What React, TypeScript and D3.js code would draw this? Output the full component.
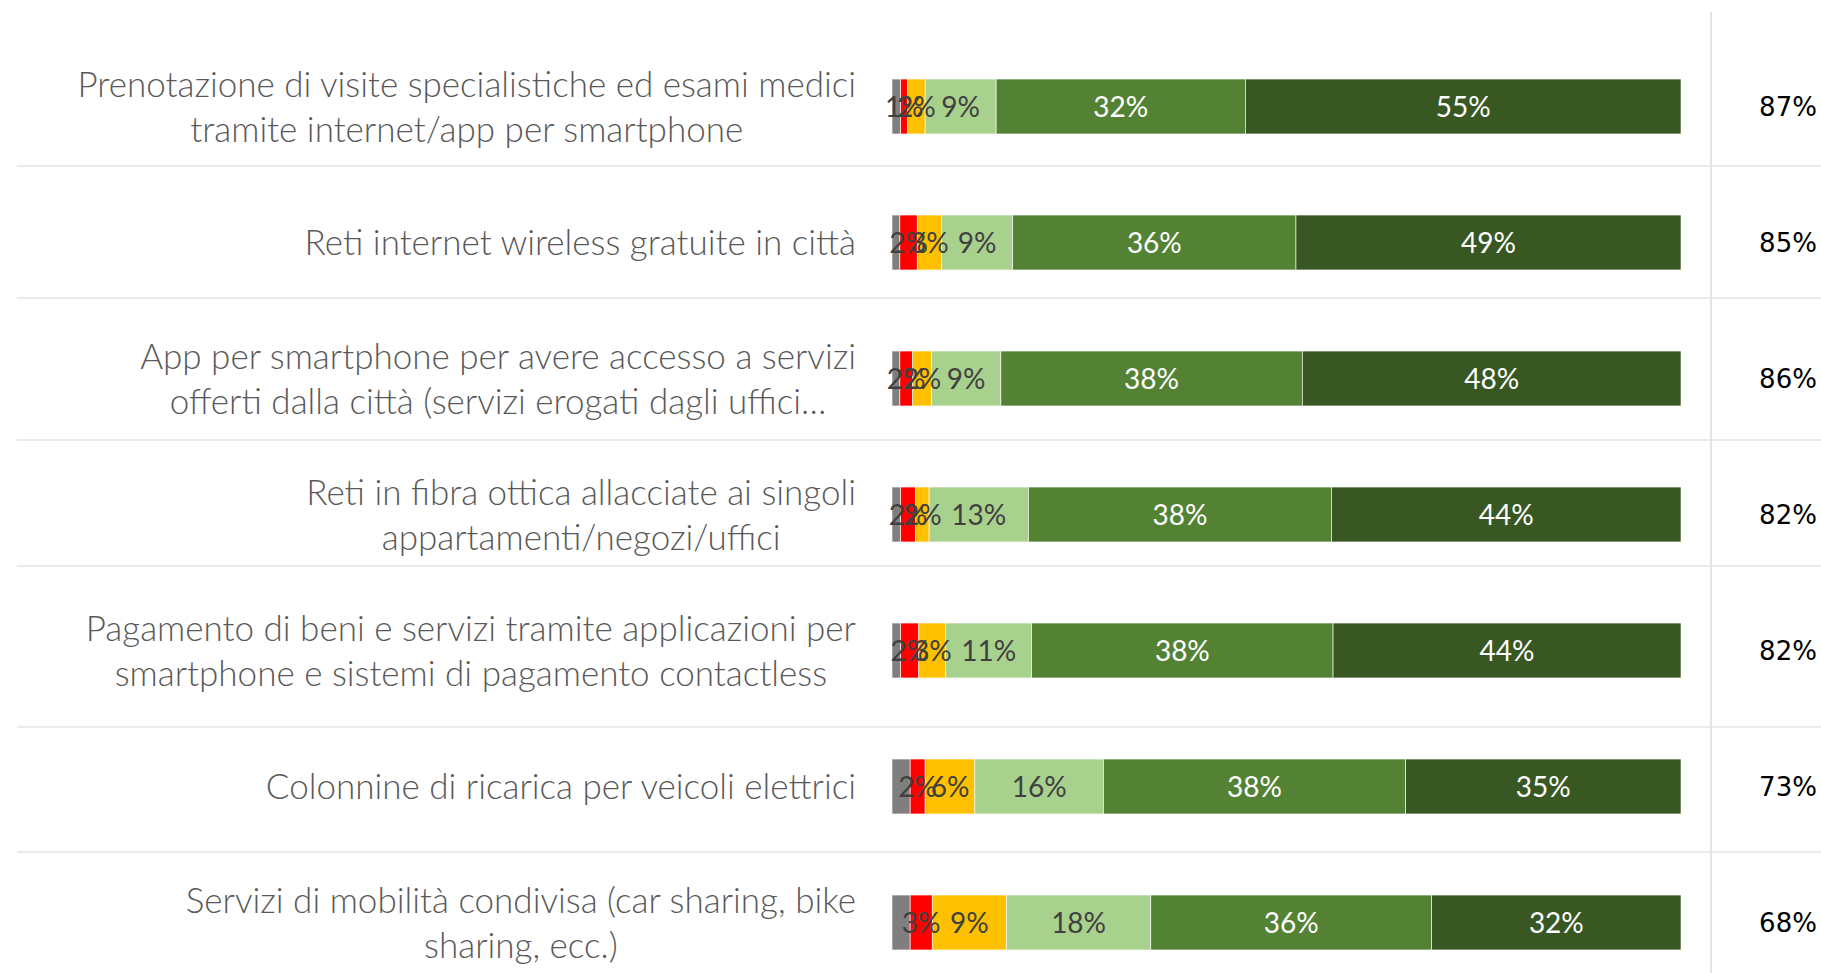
import React, { useEffect, useRef } from 'react'
import * as d3 from 'd3'

// category labels, '\n' marks the line breaks of the axis labels
const categories = [
  'Prenotazione di visite specialistiche ed esami medici\ntramite internet/app per smartphone',
  'Reti internet wireless gratuite in città',
  'App per smartphone per avere accesso a servizi\nofferti dalla città (servizi erogati dagli uffici…',
  'Reti in fibra ottica allacciate ai singoli\nappartamenti/negozi/uffici',
  'Pagamento di beni e servizi tramite applicazioni per\nsmartphone e sistemi di pagamento contactless',
  'Colonnine di ricarica per veicoli elettrici',
  'Servizi di mobilità condivisa (car sharing, bike\nsharing, ecc.)'
]

const seriesKeys = ['nonSa', 'perNiente', 'poco', 'abbastanza', 'utile', 'moltoUtile']
const seriesColors = ['#7f7f7f', '#ff0000', '#ffc000', '#a9d18e', '#548235', '#385723']

const nonSa = [1.1, 1.0, 1.0, 1.1, 1.1, 2.3, 2.3]
const perNiente = [0.9, 2.2, 1.6, 1.9, 2.3, 1.9, 2.8]
const poco = [2.2, 3.1, 2.4, 1.7, 3.4, 6.3, 9.4]
const abbastanza = [9.0, 9.0, 8.8, 12.6, 10.9, 16.3, 18.3]
const utile = [31.6, 35.9, 38.2, 38.4, 38.2, 38.3, 35.6]
const moltoUtile = [55.2, 48.8, 48.0, 44.3, 44.1, 34.9, 31.6]

// top-2 box column on the right
const totals = [87, 85, 86, 82, 82, 73, 68]

// table borders behind the chart (layout only)
const rowLines = [166, 298, 440, 566, 727, 852]

const W = 1821
const H = 973

export default function App () {
  const ref = useRef<SVGSVGElement>(null)

  useEffect(() => {
    document.body.style.margin = '0'
    const svg = d3.select(ref.current)
    svg.selectAll('*').remove()

    const rows = categories.map((c, i) => ({
      cat: c,
      nonSa: nonSa[i],
      perNiente: perNiente[i],
      poco: poco[i],
      abbastanza: abbastanza[i],
      utile: utile[i],
      moltoUtile: moltoUtile[i]
    }))

    const x = d3.scaleLinear().domain([0, 100]).range([892, 1681])
    const y = d3.scaleBand<string>()
      .domain(categories)
      .range([38.5, 990.5])
      .paddingInner(0.596)
      .paddingOuter(0.298)

    // grid / table lines
    svg.append('g')
      .selectAll('line')
      .data(rowLines)
      .join('line')
      .attr('x1', 17).attr('x2', W)
      .attr('y1', d => d).attr('y2', d => d)
      .attr('stroke', '#e4e4e4')
      .attr('stroke-width', 1.5)
    svg.append('line')
      .attr('x1', 1711).attr('x2', 1711)
      .attr('y1', 12).attr('y2', H)
      .attr('stroke', '#e4e4e4')
      .attr('stroke-width', 2)

    const stacked = d3.stack<any>().keys(seriesKeys)(rows)

    // bars
    const layers = svg.append('g')
      .selectAll('g')
      .data(stacked)
      .join('g')
      .attr('fill', (d, i) => seriesColors[i])
    layers.selectAll('rect')
      .data(d => d)
      .join('rect')
      .attr('x', d => x(d[0]))
      .attr('y', d => y(d.data.cat) as number)
      .attr('width', d => x(d[1]) - x(d[0]))
      .attr('height', y.bandwidth())
      .attr('stroke', '#ffffff')
      .attr('stroke-width', 0.6)

    // data labels (no labels on the grey series)
    const labelLayers = svg.append('g')
      .attr('font-family', 'Lato, "Open Sans", sans-serif')
      .attr('font-size', 28)
      .selectAll('g')
      .data(stacked.slice(1))
      .join('g')
      .attr('fill', (d, i) => (i >= 3 ? '#ffffff' : '#404040'))
    labelLayers.selectAll('text')
      .data(d => d)
      .join('text')
      .attr('x', d => (x(d[0]) + x(d[1])) / 2)
      .attr('y', d => (y(d.data.cat) as number) + y.bandwidth() / 2)
      .attr('dy', '0.36em')
      .attr('text-anchor', 'middle')
      .text(d => Math.round(d[1] - d[0]) + '%')

    // category labels: block right-aligned, lines centred within it
    const catG = svg.append('g')
      .attr('font-family', 'Lato, "Open Sans", sans-serif')
      .attr('font-weight', 300)
      .attr('font-size', 35)
      .attr('fill', '#595959')
    categories.forEach(c => {
      const lines = c.split('\n')
      const cy = (y(c) as number) + y.bandwidth() / 2
      const lh = 45
      const t = catG.append('text').attr('text-anchor', 'middle')
      const spans = lines.map((ln, j) =>
        t.append('tspan')
          .attr('y', cy + (j - (lines.length - 1) / 2) * lh)
          .attr('dy', '0.36em')
          .text(ln)
      )
      const maxW = d3.max(spans, s => (s.node() as SVGTSpanElement).getComputedTextLength()) || 0
      spans.forEach(s => s.attr('x', 856 - maxW / 2))
    })

    // totals column
    svg.append('g')
      .attr('font-family', '"DejaVu Sans", sans-serif')
      .attr('font-size', 26)
      .attr('fill', '#000000')
      .selectAll('text')
      .data(totals)
      .join('text')
      .attr('x', 1788)
      .attr('y', (d, i) => (y(categories[i]) as number) + y.bandwidth() / 2)
      .attr('dy', '0.36em')
      .attr('text-anchor', 'middle')
      .text(d => d + '%')
  }, [])

  return <svg ref={ref} width={W} height={H} style={{ display: 'block', background: '#fff' }} />
}
